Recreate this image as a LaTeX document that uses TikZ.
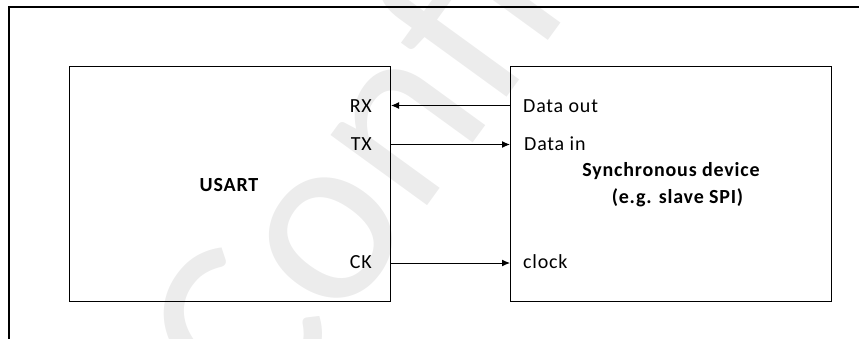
\documentclass[tikz,border=0pt]{standalone}
\usepackage{fontspec}
\setmainfont{Carlito}[LetterSpace=4]
\newfontfamily\wmfont{Carlito}
\usetikzlibrary{arrows.meta}
\tikzset{
  blk/.style={draw=black, line width=1pt, inner sep=0pt, anchor=north west},
  lbl/.style={inner sep=0pt, font=\fontsize{20}{24}\selectfont},
  ttl/.style={inner sep=0pt, font=\fontsize{20}{24}\selectfont\bfseries},
  arr/.style={draw=black, line width=1pt, -{Latex[length=8pt,width=7pt]}},
  frame/.style={draw=black, line width=2.3pt}
}
\begin{document}
\begin{tikzpicture}[x=1pt,y=-1pt]
\useasboundingbox (0,0) rectangle (859,338);
\begin{scope}
  \clip (0,0) rectangle (859,338);
  \node[rotate=54, anchor=base west, text=gray!15, inner sep=0pt,
        font=\wmfont\fontsize{250}{250}\selectfont] (wm) at (262,434) {Confidential};
\end{scope}
\draw[frame] (8.7,340) -- (8.7,7) -- (861,7);
\node[blk, minimum width=321pt, minimum height=235pt] (usart) at (69,66) {};
\node[blk, minimum width=321pt, minimum height=235pt] (sync) at (510,66) {};
\node[ttl, anchor=base] (ut) at (229,191.5) {USART};
\node[ttl, anchor=base] (st1) at (671,176.5) {Synchronous device};
\node[ttl, anchor=base] (st2) at (677.5,203.5) {(e.g. slave SPI)};
\node[lbl, anchor=base east] (rx) at (372,112.3) {RX};
\node[lbl, anchor=base east] (tx) at (372,150.7) {TX};
\node[lbl, anchor=base east] (ck) at (372,268.7) {CK};
\node[lbl, anchor=base west] (dout) at (523,112.3) {Data out};
\node[lbl, anchor=base west] (din) at (524,150.7) {Data in};
\node[lbl, anchor=base west] (clk) at (523,268.7) {clock};
\coordinate (rxp) at (usart.east |- 0,105.5);
\coordinate (txp) at (usart.east |- 0,144.5);
\coordinate (ckp) at (usart.east |- 0,263);
\coordinate (doutp) at (sync.west |- 0,105.5);
\coordinate (dinp) at (sync.west |- 0,144.5);
\coordinate (clkp) at (sync.west |- 0,263);
\draw[arr] (doutp) -- (rxp);
\draw[arr] (txp) -- (dinp);
\draw[arr] (ckp) -- (clkp);
\end{tikzpicture}
\end{document}
